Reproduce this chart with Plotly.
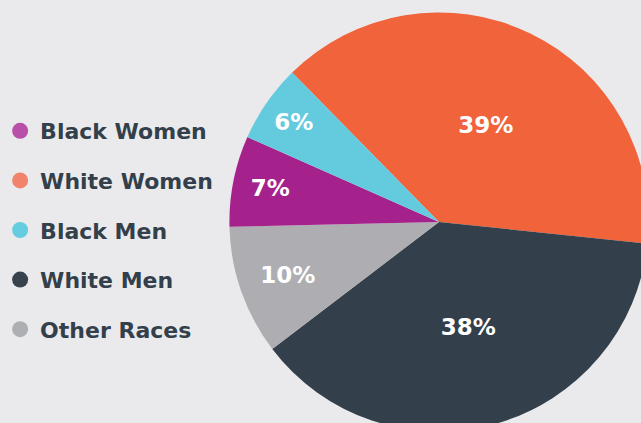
import plotly.graph_objs as go

# slices in drawing order, clockwise from upper left
slice_labels = ["White Women", "White Men", "Other Races", "Black Women", "Black Men"]
slice_values = [39, 38, 10, 7, 6]
slice_colors = ["#f1633b", "#333f4a", "#aeaeb2", "#a5228c", "#64cbdf"]

# legend order as shown on the left
legend_labels = ["Black Women", "White Women", "Black Men", "White Men", "Other Races"]
legend_colors = ["#b84fa8", "#f0836a", "#66cde0", "#37424d", "#aeafb2"]

# the pie runs off the right and bottom edges of the 641x423 window,
# so the figure is a bit bigger and the page just crops it
W, H = 650, 440
bg = "#eaeaec"

fig = go.Figure()

fig.add_trace(go.Pie(labels=slice_labels,
                     values=slice_values,
                     sort=False,
                     direction="clockwise",
                     rotation=-44.5,
                     marker=dict(colors=slice_colors, line=dict(width=0)),
                     texttemplate="%{value}%",
                     textposition="inside",
                     insidetextorientation="horizontal",
                     textfont=dict(family="DejaVu Sans", size=23, color="white", weight="bold"),
                     hoverinfo="label+percent",
                     showlegend=False,
                     domain=dict(x=[223.5 / W, 648.5 / W], y=[1 - 434.5 / H, 1 - 9.5 / H])
                     )
              )

# dummy traces just to get the legend in the right order
for i, (name, col) in enumerate(zip(legend_labels, legend_colors)):
    fig.add_trace(go.Scatter(x=[None], y=[None],
                             mode="markers",
                             name=name,
                             legendgroup="g" + str(i),
                             marker=dict(color=col, size=18, symbol="circle")
                             )
                  )

fig.update_layout(width=W, height=H,
                  margin=dict(l=0, r=0, t=0, b=0),
                  paper_bgcolor=bg,
                  plot_bgcolor=bg,
                  xaxis=dict(visible=False),
                  yaxis=dict(visible=False),
                  showlegend=True,
                  legend=dict(x=-9 / W, y=1 - 230 / H, xanchor="left", yanchor="middle",
                              traceorder="grouped", tracegroupgap=18,
                              bgcolor="rgba(0,0,0,0)",
                              font=dict(family="DejaVu Sans", size=22, color="#333f4a", weight="bold")))

# drop the default page margin and scrollbars so the figure sits at the window corner
fig.write_html("out.html",
               config={"displayModeBar": False},
               post_script="document.body.style.margin='0';document.body.style.overflow='hidden';")
